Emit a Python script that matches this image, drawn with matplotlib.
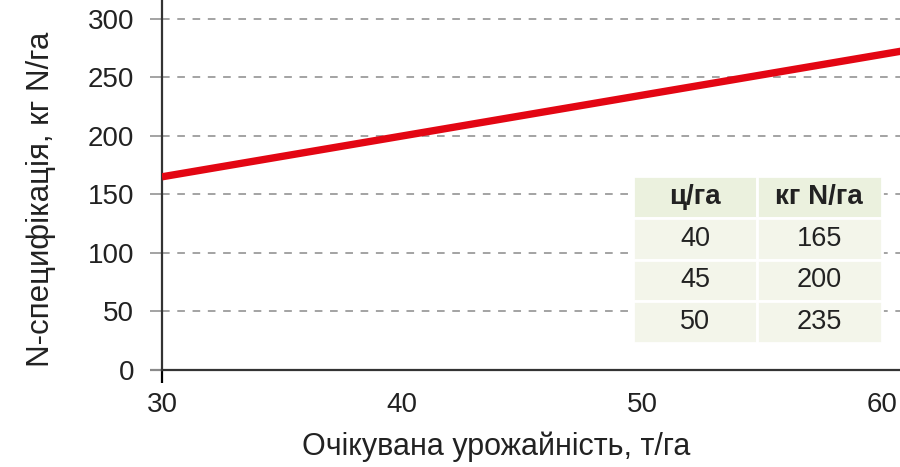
#!/usr/bin/env python3
"""N-rate vs expected yield line chart with a small lookup table."""

import matplotlib
matplotlib.use("Agg")
import matplotlib.pyplot as plt

# expected yield, t/ha (x) and N specification, kg N/ha (y)
yield_t = [30, 61]
n_rate = [165, 273]

y_ticks = [0, 50, 100, 150, 200, 250, 300]
x_ticks = [30, 40, 50, 60]

table_header = ["ц/га", "кг N/га"]
table_yield = ["40", "45", "50"]
table_n = ["165", "200", "235"]

plt.rcParams["font.family"] = ["Liberation Sans", "DejaVu Sans"]

fig = plt.figure(figsize=(9, 4.67), dpi=100)
ax = fig.add_axes([0.18, 0.2077, 0.82, 0.7923])

ax.plot(yield_t, n_rate, color="#e30613", lw=5.3, solid_capstyle="butt", zorder=3)

ax.set_xlim(30, 60.75)
ax.set_ylim(0, 316)
ax.set_xticks(x_ticks)
ax.set_yticks(y_ticks)
ax.grid(axis="y", color="#8a8a8a", ls=(0, (5, 5)), lw=1.1)
ax.set_axisbelow(True)

for side in ("top", "right"):
    ax.spines[side].set_visible(False)
for side in ("left", "bottom"):
    ax.spines[side].set_color("#333333")
    ax.spines[side].set_linewidth(1.6)

ax.tick_params(axis="y", length=9, width=1.1, color="#8a8a8a", pad=11, labelsize=20, labelcolor="#222222")
ax.tick_params(axis="x", length=0, pad=16, labelsize=20, labelcolor="#222222")
zero = ax.yaxis.get_major_ticks()[0]
zero.tick1line.set_color("#333333")
zero.tick1line.set_markeredgewidth(1.6)
first = ax.xaxis.get_major_ticks()[0]
first.tick1line.set_markersize(9)
first.tick1line.set_color("#333333")
first.tick1line.set_markeredgewidth(1.6)

ax.set_xlabel("Очікувана урожайність, т/га", fontsize=22, color="#222222")
ax.set_ylabel("N-специфікація, кг N/га", fontsize=22.5, color="#222222")
ax.xaxis.set_label_coords(0.453, -0.165)
ax.yaxis.set_label_coords(-0.143, 0.46)

rows = [[a, b] for a, b in zip(table_yield, table_n)]
tbl = ax.table(cellText=rows, colLabels=table_header, cellLoc="center",
               bbox=[0.638, 0.073, 0.337, 0.451], zorder=4)
tbl.auto_set_font_size(False)
for (r, c), cell in tbl.get_celld().items():
    cell.set_edgecolor("white")
    cell.set_linewidth(2)
    cell.set_facecolor("#ebf1de" if r == 0 else "#f3f5ea")
    cell.get_text().set_fontsize(20 if r == 0 else 19.5)
    cell.get_text().set_color("#222222")
    if r == 0:
        cell.get_text().set_fontweight("bold")

fig.savefig("out.png", dpi=100)
